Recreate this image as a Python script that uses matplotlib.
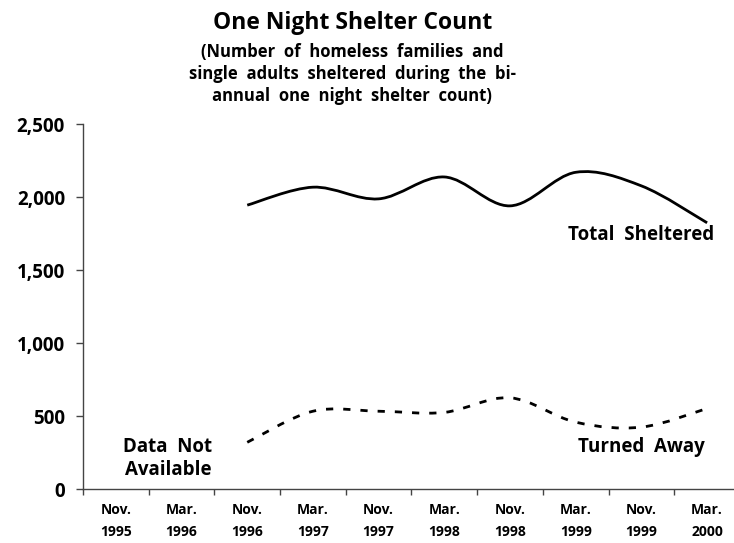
import matplotlib
matplotlib.use("Agg")
import matplotlib.pyplot as plt
from matplotlib.path import Path
from matplotlib.patches import PathPatch

# Categories and values
months = ["Nov.\n1995", "Mar.\n1996", "Nov.\n1996", "Mar.\n1997", "Nov.\n1997",
          "Mar.\n1998", "Nov.\n1998", "Mar.\n1999", "Nov.\n1999", "Mar.\n2000"]
total_sheltered = [None, None, 1945, 2068, 1988, 2138, 1940, 2170, 2077, 1824]
turned_away = [None, None, 320, 533, 533, 525, 625, 458, 424, 552]
y_ticks = [0, 500, 1000, 1500, 2000, 2500]

plt.rcParams['font.family'] = ['Open Sans', 'DejaVu Sans']
plt.rcParams['font.weight'] = 'bold'


def smooth_path(xs, ys):
    # Bezier segments through the points (Excel style smoothed line)
    pts = list(zip(xs, ys))
    verts = [pts[0]]
    codes = [Path.MOVETO]
    n = len(pts)
    for i in range(n - 1):
        p0 = pts[i - 1] if i > 0 else pts[i]
        p1 = pts[i]
        p2 = pts[i + 1]
        p3 = pts[i + 2] if i + 2 < n else pts[i + 1]
        c1 = (p1[0] + (p2[0] - p0[0]) / 6, p1[1] + (p2[1] - p0[1]) / 6)
        c2 = (p2[0] - (p3[0] - p1[0]) / 6, p2[1] - (p3[1] - p1[1]) / 6)
        verts += [c1, c2, p2]
        codes += [Path.CURVE4] * 3
    return Path(verts, codes)


fig = plt.figure(figsize=(7.34, 5.43), dpi=100)
ax = fig.add_axes([0.1131, 0.0994, 0.895, 0.672])

for series, style in [(total_sheltered, (0, ())), (turned_away, (0, (2.6, 3.6)))]:
    xs = [i for i, v in enumerate(series) if v is not None]
    ys = [v for v in series if v is not None]
    patch = PathPatch(smooth_path(xs, ys), facecolor='none', edgecolor='black',
                      lw=2.0, linestyle=style, capstyle='butt')
    ax.add_patch(patch)

ax.set_xlim(-0.5, len(months) - 0.5)
ax.set_ylim(0, 2500)
ax.set_xticks(range(len(months)))
ax.set_xticklabels(months, fontsize=10, fontweight='bold', linespacing=1.7)
ax.set_xticks([i - 0.5 for i in range(len(months) + 1)], minor=True)
ax.tick_params(axis='x', which='major', length=0, pad=10)
ax.tick_params(axis='x', which='minor', length=4, width=1, color='#444', direction='out')
ax.set_yticks(y_ticks)
ax.set_yticklabels([f"{v:,}" for v in y_ticks], fontsize=13.5, fontweight='bold')
ax.tick_params(axis='y', length=5, width=1, color='#444', pad=8)

for s in ['top', 'right']:
    ax.spines[s].set_visible(False)
for s in ['left', 'bottom']:
    ax.spines[s].set_color('#444')
    ax.spines[s].set_linewidth(1)

ax.text(8.0, 1740, "Total  Sheltered", ha='center', va='center', fontsize=13.5, fontweight='bold')
ax.text(8.0, 290, "Turned  Away", ha='center', va='center', fontsize=13.5, fontweight='bold')
ax.text(0.79, 212, "Data  Not\nAvailable", ha='center', va='center', fontsize=13.5,
        fontweight='bold', linespacing=1.2)

fig.text(0.48, 0.958, "One Night Shelter Count", ha='center', va='center',
         fontsize=16.5, fontweight='bold')
fig.text(0.48, 0.864, "(Number  of  homeless  families  and\nsingle  adults  sheltered  during  the  bi-\nannual  one  night  shelter  count)",
         ha='center', va='center', fontsize=12, fontweight='bold', linespacing=1.3)

fig.savefig("out.png", dpi=100)
